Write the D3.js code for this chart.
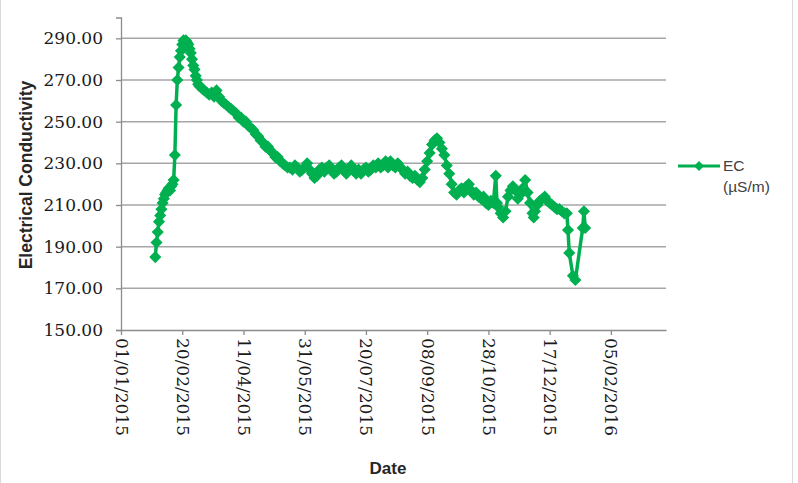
<!DOCTYPE html>
<html><head><meta charset="utf-8">
<script src="https://cdn.jsdelivr.net/npm/d3@7"></script>
<style>body{margin:0;background:#fff}</style>
</head><body>
<svg id="c" width="798" height="483"></svg>
<script>
// ---- data ----
const dates = [
"2015-01-29","2015-01-30","2015-01-31","2015-02-01","2015-02-02","2015-02-03","2015-02-04","2015-02-05","2015-02-06","2015-02-07",
"2015-02-08","2015-02-09","2015-02-10","2015-02-11","2015-02-12","2015-02-13","2015-02-14","2015-02-15","2015-02-16","2015-02-17",
"2015-02-18","2015-02-19","2015-02-20","2015-02-21","2015-02-22","2015-02-23","2015-02-24","2015-02-25","2015-02-26","2015-02-27",
"2015-02-28","2015-03-01","2015-03-02","2015-03-03","2015-03-04","2015-03-05","2015-03-06","2015-03-08","2015-03-10","2015-03-12",
"2015-03-14","2015-03-16","2015-03-18","2015-03-20","2015-03-22","2015-03-24","2015-03-26","2015-03-28","2015-03-30","2015-04-01",
"2015-04-03","2015-04-05","2015-04-07","2015-04-09","2015-04-11","2015-04-13","2015-04-15","2015-04-17","2015-04-19","2015-04-21",
"2015-04-23","2015-04-25","2015-04-27","2015-04-29","2015-05-01","2015-05-03","2015-05-05","2015-05-07","2015-05-09","2015-05-11",
"2015-05-13","2015-05-15","2015-05-17","2015-05-19","2015-05-21","2015-05-23","2015-05-25","2015-05-27","2015-05-29","2015-05-31",
"2015-06-02","2015-06-04","2015-06-06","2015-06-08","2015-06-10","2015-06-12","2015-06-14","2015-06-16","2015-06-18","2015-06-20",
"2015-06-22","2015-06-24","2015-06-26","2015-06-28","2015-06-30","2015-07-02","2015-07-04","2015-07-06","2015-07-08","2015-07-10",
"2015-07-12","2015-07-14","2015-07-16","2015-07-18","2015-07-20","2015-07-22","2015-07-24","2015-07-26","2015-07-28","2015-07-30",
"2015-08-01","2015-08-03","2015-08-05","2015-08-07","2015-08-09","2015-08-11","2015-08-13","2015-08-15","2015-08-17","2015-08-19",
"2015-08-21","2015-08-23","2015-08-25","2015-08-27","2015-08-29","2015-08-31","2015-09-02","2015-09-04","2015-09-06","2015-09-08",
"2015-09-10","2015-09-12","2015-09-14","2015-09-16","2015-09-18","2015-09-20","2015-09-22","2015-09-24","2015-09-26","2015-09-28",
"2015-09-30","2015-10-02","2015-10-04","2015-10-06","2015-10-08","2015-10-10","2015-10-12","2015-10-14","2015-10-16","2015-10-18",
"2015-10-20","2015-10-22","2015-10-24","2015-10-26","2015-10-28","2015-10-30","2015-11-01","2015-11-03","2015-11-04","2015-11-05",
"2015-11-07","2015-11-09","2015-11-11","2015-11-13","2015-11-15","2015-11-17","2015-11-19","2015-11-21","2015-11-23","2015-11-25",
"2015-11-27","2015-11-29","2015-12-01","2015-12-03","2015-12-04","2015-12-05","2015-12-07","2015-12-09","2015-12-11","2015-12-13",
"2015-12-15","2015-12-17","2015-12-19","2015-12-21","2015-12-23","2015-12-25","2015-12-27","2015-12-29","2015-12-31","2016-01-01",
"2016-01-02","2016-01-05","2016-01-07","2016-01-13","2016-01-14","2016-01-15"
];
const ecValues = [
185,192,197,202,205,208,211,213,215,216,
217,218,217,219,220,222,234,258,270,276,
281,284,287,289,287,289,288,287,285,283,
280,277,275,272,270,268,267,266,265,264,
263,264,262,265,262,260,259,258,257,256,
255,254,252,252,250,250,248,247,246,244,
243,241,240,238,238,236,235,233,233,231,
230,229,228,228,227,229,228,226,227,228,
230,227,225,223,224,227,228,226,228,229,
227,225,226,228,229,227,225,227,229,227,
225,227,225,227,228,226,227,229,228,230,
228,229,231,228,231,229,228,230,228,227,
225,226,224,223,224,222,221,223,227,231,
235,239,241,242,240,237,234,229,225,220,
216,215,217,218,216,219,220,217,215,216,
214,213,214,211,210,212,211,224,211,209,
206,204,207,214,217,219,217,213,215,218,
222,216,211,206,204,207,210,212,213,214,
212,211,210,209,208,208,207,206,206,198,
187,176,174,199,207,199
];
const yTicks = [150,170,190,210,230,250,270,290];
const xTickDates = ["2015-01-01","2015-02-20","2015-04-11","2015-05-31","2015-07-20","2015-09-08","2015-10-28","2015-12-17","2016-02-05"];
const xDomain = ["2015-01-01","2016-03-21"];
const yDomain = [150,300];
const seriesLabel = ["EC","(\u00b5S/m)"];
const xTitle = "Date";
const yTitle = "Electrical Conductivity";

// ---- drawing ----
const parse = d3.utcParse("%Y-%m-%d");
const fmt = d3.utcFormat("%d/%m/%Y");
const data = dates.map((d,i)=>({date:parse(d), v:ecValues[i]}));
const svg = d3.select("#c");
const green = "#00B050";
const L=121, R=666, T=17.5, B=330;

svg.append("rect").attr("x",0.5).attr("y",-5).attr("width",792).attr("height",500)
  .attr("fill","#fff").attr("stroke","#d9d9d9");

const x = d3.scaleUtc().domain(xDomain.map(parse)).range([L,R]);
const y = d3.scaleLinear().domain(yDomain).range([B,T]);

// gridlines
svg.append("g").selectAll("line").data(yTicks.filter(t=>t>yDomain[0])).join("line")
  .attr("x1",L).attr("x2",R).attr("y1",d=>y(d)).attr("y2",d=>y(d))
  .attr("stroke","#a6a6a6").attr("stroke-width",1.5);

// y axis
const yAxis = svg.append("g").attr("transform",`translate(${L},0)`)
  .call(d3.axisLeft(y).tickValues(yTicks).tickFormat(d3.format(".2f")).tickSize(5).tickPadding(13));
yAxis.select(".domain").attr("stroke","#8c8c8c").attr("stroke-width",1.3);
yAxis.selectAll(".tick line").attr("stroke","#8c8c8c").attr("stroke-width",1.3);
yAxis.selectAll("text").attr("font-family","'DejaVu Serif', serif").attr("font-size",17).attr("fill","#1a1a1a");

// x axis
const xAxis = svg.append("g").attr("transform",`translate(0,${B})`)
  .call(d3.axisBottom(x).tickValues(xTickDates.map(parse)).tickFormat(fmt).tickSize(5).tickSizeOuter(0));
xAxis.select(".domain").attr("stroke","#8c8c8c").attr("stroke-width",1.3);
xAxis.selectAll(".tick line").attr("stroke","#8c8c8c").attr("stroke-width",1.3);
xAxis.selectAll("text").attr("font-family","'DejaVu Serif', serif").attr("font-size",17).attr("fill","#1a1a1a")
  .attr("text-anchor","start").attr("dy","0.35em").attr("y",0)
  .attr("transform","translate(0,8) rotate(90)");

// series line
const diamond = d3.symbol().type(d3.symbolSquare).size(50);
svg.append("path").datum(data)
  .attr("d",d3.line().x(d=>x(d.date)).y(d=>y(d.v)))
  .attr("fill","none").attr("stroke",green).attr("stroke-width",3.5).attr("stroke-linejoin","round");
svg.append("g").selectAll("path").data(data).join("path")
  .attr("d",diamond)
  .attr("transform",d=>`translate(${x(d.date)},${y(d.v)}) rotate(45)`)
  .attr("fill",green).attr("stroke",green).attr("stroke-width",1.5);

// axis titles
svg.append("text").attr("x",388).attr("y",474).attr("text-anchor","middle")
  .attr("font-family","'Liberation Sans', Arial, sans-serif").attr("font-weight","bold").attr("font-size",17)
  .attr("fill","#262626").text(xTitle);
svg.append("text").attr("transform","translate(32,175) rotate(-90)").attr("text-anchor","middle")
  .attr("font-family","'Liberation Sans', Arial, sans-serif").attr("font-weight","bold").attr("font-size",17.5)
  .attr("fill","#262626").text(yTitle);

// legend
const lg = svg.append("g");
lg.append("line").attr("x1",678).attr("x2",720).attr("y1",166).attr("y2",166).attr("stroke",green).attr("stroke-width",3);
lg.append("path").attr("d",diamond).attr("transform","translate(699,166) rotate(45)").attr("fill",green);
lg.selectAll("text").data(seriesLabel).join("text")
  .attr("x",723).attr("y",(d,i)=>171+i*21)
  .attr("font-family","'Liberation Sans', Arial, sans-serif").attr("font-size",15.5).attr("fill","#404040")
  .text(d=>d);
</script>
</body></html>
